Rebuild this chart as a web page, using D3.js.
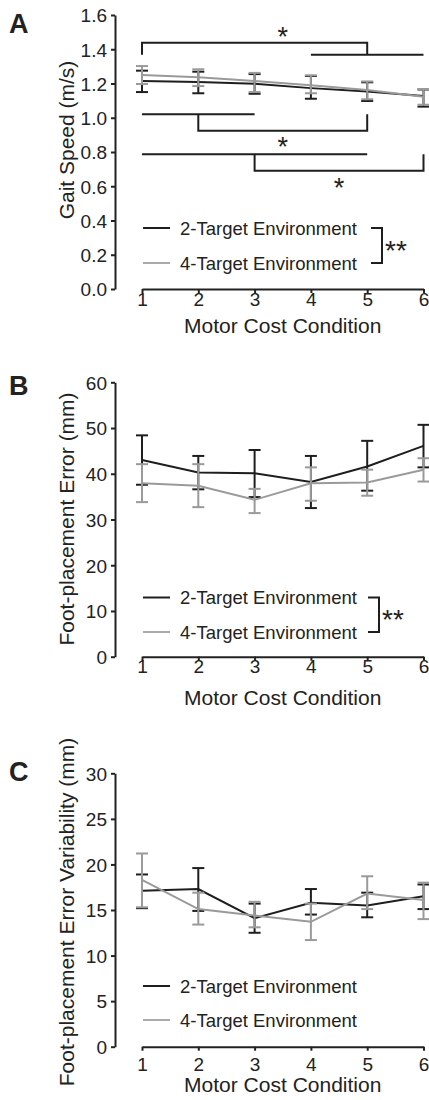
<!DOCTYPE html>
<html lang='en'>
  <head>
    <meta charset='utf-8'>
    <style type='text/css'>
      body {margin: 0; background-color: #fff;}
      svg {display: block; font-family: 'Liberation Sans', Arial, sans-serif;}
      .axis path, .axis line {stroke: #222; stroke-width: 2;}
      .axis text {fill: #222; font-size: 19px; font-family: 'Liberation Sans', Arial, sans-serif;}
    </style>
  </head>
  <body>
    <svg id='chart' width='429' height='1100'></svg>
    <script src='https://d3js.org/d3.v7.min.js'></script>
    <script type='text/javascript'>
        // ---- data ----
        var conditions = [1, 2, 3, 4, 5, 6];
        var seriesNames = ["2-Target Environment", "4-Target Environment"];

        // A: gait speed (m/s)
        var speed2   = [1.215, 1.209, 1.199, 1.173, 1.153, 1.127];
        var speed2Lo = [1.150, 1.143, 1.140, 1.111, 1.098, 1.065];
        var speed2Hi = [1.275, 1.269, 1.255, 1.244, 1.207, 1.165];
        var speed4   = [1.250, 1.236, 1.215, 1.190, 1.162, 1.122];
        var speed4Lo = [1.197, 1.185, 1.150, 1.143, 1.108, 1.076];
        var speed4Hi = [1.302, 1.283, 1.262, 1.248, 1.212, 1.168];

        // B: foot-placement error (mm)
        var err2   = [43.0, 40.3, 40.1, 38.2, 41.6, 46.1];
        var err2Lo = [37.6, 36.6, 34.9, 32.5, 36.3, 41.4];
        var err2Hi = [48.4, 43.9, 45.2, 43.9, 47.2, 50.7];
        var err4   = [37.9, 37.4, 34.3, 37.9, 38.1, 40.9];
        var err4Lo = [33.8, 32.7, 31.4, 34.1, 35.2, 38.3];
        var err4Hi = [42.1, 42.1, 36.7, 41.4, 40.9, 43.4];

        // C: foot-placement error variability (mm)
        var var2   = [17.1, 17.3, 14.1, 15.8, 15.5, 16.5];
        var var2Lo = [15.2, 14.9, 12.5, 14.5, 14.2, 15.1];
        var var2Hi = [18.9, 19.6, 15.7, 17.3, 16.9, 17.8];
        var var4   = [18.3, 15.1, 14.4, 13.7, 16.8, 16.1];
        var var4Lo = [15.3, 13.4, 13.1, 11.7, 15.1, 14.0];
        var var4Hi = [21.2, 16.9, 15.9, 15.7, 18.7, 18.0];

        var ticksA = [0, 0.2, 0.4, 0.6, 0.8, 1.0, 1.2, 1.4, 1.6];
        var ticksB = [0, 10, 20, 30, 40, 50, 60];
        var ticksC = [0, 5, 10, 15, 20, 25, 30];

        // significance brackets for panel A: left group, right group, levels, star position
        var bracketsA = [
          {left: [1, 1], right: [4, 6], top: 1.438, low: 1.368, dir: 1, star: [3.5, 1.50]},
          {left: [1, 3], right: [5, 5], top: 1.020, low: 0.924, dir: -1, star: [3.5, 0.86]},
          {left: [1, 5], right: [6, 6], top: 0.787, low: 0.691, dir: -1, star: [4.5, 0.62]}
        ];

        var black = "#1e1e1e", gray = "#9a9a9a", textColor = "#222";
        var svg = d3.select("#chart");
        var x = d3.scaleLinear().domain([1, 6]).range([142, 423.5]);

        var panels = [
          {letter: "A", letterY: 33, yDomain: [0, 1.6], yRange: [289, 15], ticks: ticksA, fmt: d3.format(".1f"),
           title: "Gait Speed (m/s)", titleY: 140, tickDy: 17, xTitleY: 333,
           s: [[speed2, speed2Lo, speed2Hi], [speed4, speed4Lo, speed4Hi]],
           legendY: [228, 263], sig: true},
          {letter: "B", letterY: 395, yDomain: [0, 60], yRange: [656.7, 382.3], ticks: ticksB, fmt: d3.format("d"),
           title: "Foot-placement Error (mm)", titleY: 519, tickDy: 16, xTitleY: 705,
           s: [[err2, err2Lo, err2Hi], [err4, err4Lo, err4Hi]],
           legendY: [597.5, 632], sig: true},
          {letter: "C", letterY: 781, yDomain: [0, 30], yRange: [1046.7, 773.3], ticks: ticksC, fmt: d3.format("d"),
           title: "Foot-placement  Error Variability (mm)", titleY: 912, tickDy: 24, xTitleY: 1092,
           s: [[var2, var2Lo, var2Hi], [var4, var4Lo, var4Hi]],
           legendY: [986, 1020], sig: false}
        ];

        var colors = [black, gray];

        panels.forEach(function(p, pi) {
          var y = d3.scaleLinear().domain(p.yDomain).range(p.yRange);
          var g = svg.append("g");

          // panel letter
          g.append("text").attr("x", 9).attr("y", p.letterY)
            .style("font-size", "27px").style("font-weight", "bold").style("fill", textColor)
            .text(p.letter);

          // y axis
          var yAxis = g.append("g").attr("class", "axis")
            .attr("transform", "translate(115,0)")
            .call(d3.axisLeft(y).tickValues(p.ticks).tickFormat(p.fmt).tickSize(4).tickSizeOuter(0).tickPadding(4));
          yAxis.selectAll("text").attr("dy", "0.36em");

          // x axis
          var xAxis = g.append("g").attr("class", "axis")
            .attr("transform", "translate(0," + p.yRange[0] + ")")
            .call(d3.axisBottom(x).tickValues(conditions).tickFormat(d3.format("d")).tickSize(4).tickSizeOuter(0).tickPadding(0));
          xAxis.selectAll("text").attr("dy", null).attr("y", p.tickDy);

          // axis titles
          g.append("text").attr("transform", "translate(74," + p.titleY + ") rotate(-90)")
            .attr("text-anchor", "middle").style("font-size", "21px").style("fill", textColor)
            .text(p.title);
          g.append("text").attr("x", (x(1) + x(6)) / 2).attr("y", p.xTitleY)
            .attr("text-anchor", "middle").style("font-size", "21px").style("fill", textColor)
            .text("Motor Cost Condition");

          // series: error bars, then mean line
          p.s.forEach(function(ser, si) {
            var col = colors[si];
            var pts = conditions.map(function(c, i) { return {c: c, m: ser[0][i], lo: ser[1][i], hi: ser[2][i]}; });
            var eb = g.append("g").attr("stroke", col).attr("stroke-width", 2).attr("fill", "none");
            eb.selectAll("line.v").data(pts).enter().append("line")
              .attr("x1", function(d) { return x(d.c); }).attr("x2", function(d) { return x(d.c); })
              .attr("y1", function(d) { return y(d.lo); }).attr("y2", function(d) { return y(d.hi); });
            ["lo", "hi"].forEach(function(k) {
              eb.selectAll("line.c" + k).data(pts).enter().append("line")
                .attr("x1", function(d) { return x(d.c) - 6; }).attr("x2", function(d) { return x(d.c) + 6; })
                .attr("y1", function(d) { return y(d[k]); }).attr("y2", function(d) { return y(d[k]); });
            });
            g.append("path").datum(pts)
              .attr("fill", "none").attr("stroke", col).attr("stroke-width", 2)
              .attr("d", d3.line().x(function(d) { return x(d.c); }).y(function(d) { return y(d.m); }));
          });

          // legend
          seriesNames.forEach(function(name, si) {
            var ly = p.legendY[si];
            g.append("line").attr("x1", 143).attr("x2", 170).attr("y1", ly).attr("y2", ly)
              .attr("stroke", si ? "#aaa" : black).attr("stroke-width", 2);
            g.append("text").attr("x", 180).attr("y", ly + 6.5)
              .style("font-size", "18.5px").style("fill", textColor).text(name);
          });
          if (p.sig) {
            var bx = pi === 0 ? 382 : 379;
            var ly0 = p.legendY[0], ly1 = p.legendY[1];
            g.append("path").attr("fill", "none").attr("stroke", black).attr("stroke-width", 2)
              .attr("d", "M" + (bx - 11) + "," + ly0 + "H" + bx + "V" + ly1 + "H" + (bx - 11));
            g.append("text").attr("x", bx + 3).attr("y", (ly0 + ly1) / 2 + 14)
              .style("font-size", "28px").style("fill", textColor).text("**");
          }

          // significance brackets (panel A)
          if (pi === 0) {
            bracketsA.forEach(function(b) {
              var bg = g.append("g").attr("fill", "none").attr("stroke", black).attr("stroke-width", 2);
              if (b.dir === 1) {
                // top bar from the single condition to the join above the right group
                var xj = x(5);
                bg.append("path").attr("d", "M" + x(b.left[0]) + "," + y(b.low) + "V" + y(b.top) + "H" + xj + "V" + y(b.low));
                bg.append("line").attr("x1", x(b.right[0])).attr("x2", x(b.right[1]))
                  .attr("y1", y(b.low)).attr("y2", y(b.low));
              } else {
                var xm = x((b.left[0] + b.left[1]) / 2);
                bg.append("line").attr("x1", x(b.left[0])).attr("x2", x(b.left[1]))
                  .attr("y1", y(b.top)).attr("y2", y(b.top));
                bg.append("path").attr("d", "M" + xm + "," + y(b.top) + "V" + y(b.low) + "H" + x(b.right[0]) + "V" + y(b.top));
              }
              g.append("text").attr("x", x(b.star[0])).attr("y", y(b.star[1]) + 14)
                .attr("text-anchor", "middle").style("font-size", "27px").style("fill", textColor).text("*");
            });
          }
        });
    </script>
  </body>
</html>
